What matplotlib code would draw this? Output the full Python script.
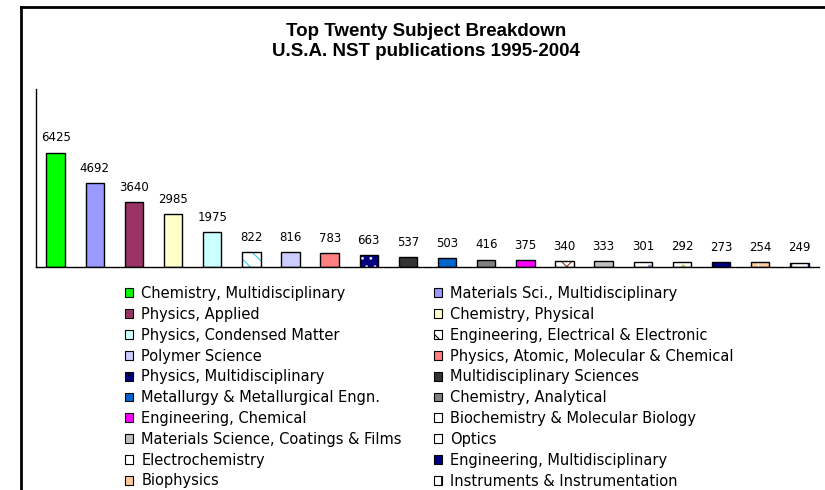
import matplotlib.pyplot as plt
from matplotlib.lines import Line2D
from matplotlib.patches import Patch
from matplotlib.colors import to_rgba

plt.rcParams['hatch.linewidth'] = 0.8

subjects = [
    'Chemistry, Multidisciplinary', 'Materials Sci., Multidisciplinary',
    'Physics, Applied', 'Chemistry, Physical',
    'Physics, Condensed Matter', 'Engineering, Electrical & Electronic',
    'Polymer Science', 'Physics, Atomic, Molecular & Chemical',
    'Physics, Multidisciplinary', 'Multidisciplinary Sciences',
    'Metallurgy & Metallurgical Engn.', 'Chemistry, Analytical',
    'Engineering, Chemical', 'Biochemistry & Molecular Biology',
    'Materials Science, Coatings & Films', 'Optics',
    'Electrochemistry', 'Engineering, Multidisciplinary',
    'Biophysics', 'Instruments & Instrumentation',
]
counts = [6425, 4692, 3640, 2985, 1975, 822, 816, 783, 663, 537,
          503, 416, 375, 340, 333, 301, 292, 273, 254, 249]

colors = ['#00ff00', '#9999ff', '#993366', '#ffffcc', '#ccffff', '#ffffff',
          '#ccccff', '#ff8080', '#000080', '#333333', '#0066cc', '#808080',
          '#ff00ff', '#ffffff', '#c0c0c0', '#ffffff', '#ffffff', '#000080',
          '#ffcc99', '#ffffff']
hatches = [None, None, None, None, None, '\\\\', None, None, '..', None,
           None, None, None, 'x', None, '.', '.', None, '+', '+']
hatch_colors = ['k'] * 20
hatch_colors[5] = '#33ccff'
hatch_colors[8] = '#ffffff'
hatch_colors[13] = '#993333'
hatch_colors[15] = '#9999cc'
hatch_colors[16] = '#cccc66'
hatch_colors[18] = '#ffffff'
hatch_colors[19] = '#000080'

fig = plt.figure(figsize=(8.25, 4.9), dpi=100)
ax = fig.add_axes([36 / 825, 1 - 267 / 490, 783 / 825, 178 / 490])

x = list(range(len(counts)))
bars = ax.bar(x, counts, width=0.47, color=colors, edgecolor='black', linewidth=1)
for b, h, hc in zip(bars, hatches, hatch_colors):
    if h:
        b.set_hatch(h)
        b._hatch_color = to_rgba(hc)

for xi, v in zip(x, counts):
    ax.annotate(str(v), (xi, v), xytext=(0, 6), textcoords='offset points',
                ha='center', va='bottom', fontsize=8.5, family='DejaVu Sans')

ax.set_xlim(-0.5, len(counts) - 0.5)
ax.set_ylim(0, 10000)
ax.set_xticks([])
ax.set_yticks([])
for s in ['top', 'right']:
    ax.spines[s].set_visible(False)
ax.spines['left'].set_linewidth(1)
ax.spines['bottom'].set_linewidth(1)

fig.text(0.516, 1 - 31 / 490, 'Top Twenty Subject Breakdown', ha='center', va='center',
         fontsize=13.5, fontweight='bold', family='Liberation Sans')
fig.text(0.516, 1 - 52 / 490, 'U.S.A. NST publications 1995-2004', ha='center', va='center',
         fontsize=13.5, fontweight='bold', family='Liberation Sans')

# outer frame (top and left edges only)
fig.add_artist(Line2D([21 / 825, 1], [1 - 7 / 490, 1 - 7 / 490], color='black', lw=2,
                      transform=fig.transFigure))
fig.add_artist(Line2D([21 / 825, 21 / 825], [0, 1 - 7 / 490], color='black', lw=2,
                      transform=fig.transFigure))

handles = []
for c, h, hc in zip(colors, hatches, hatch_colors):
    p = Patch(facecolor=c, edgecolor='black', linewidth=0.8, hatch=h)
    handles.append(p)

leg_kw = dict(frameon=False, handlelength=0.55, handleheight=0.55,
              handletextpad=0.58, labelspacing=0.40, borderpad=0, borderaxespad=0,
              loc='upper left', prop={'family': 'DejaVu Sans', 'size': 10.5})
fig.legend(handles[0::2], subjects[0::2], bbox_to_anchor=(125 / 825, 1 - 286 / 490), **leg_kw)
fig.legend(handles[1::2], subjects[1::2], bbox_to_anchor=(434 / 825, 1 - 286 / 490), **leg_kw)

fig.savefig('out.png', dpi=100)
